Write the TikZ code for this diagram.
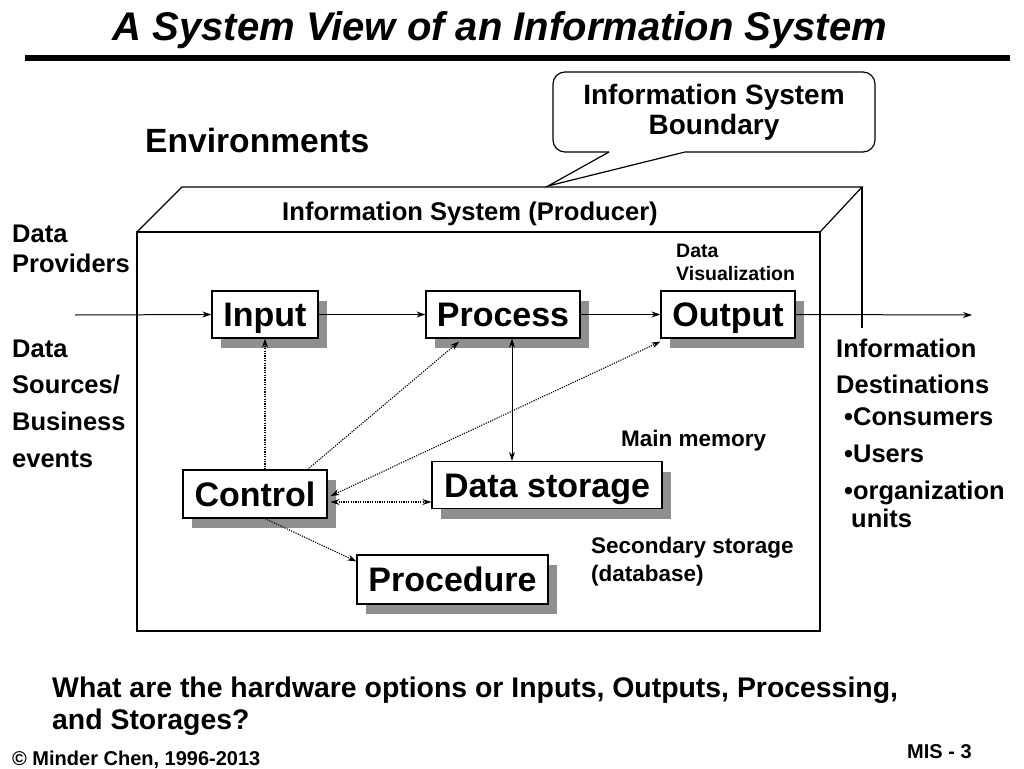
\documentclass[tikz,border=0pt]{standalone}
\usepackage{fontspec}
\setmainfont{Liberation Sans}
\usetikzlibrary{arrows.meta,shadows}
\definecolor{shadowgray}{gray}{0.56}
\newcommand{\fs}[1]{\fontsize{#1}{#1}\selectfont}
\tikzset{
  x=1pt,y=-1pt,
  procbox/.style={draw, fill=white, line width=1.2pt, inner sep=0pt, minimum height=47pt,
    font=\bfseries\fs{34}, text height=24.5pt, text depth=0pt,
    drop shadow={shadow xshift=9pt, shadow yshift=-10pt, fill=shadowgray, opacity=1}},
  lbl/.style={anchor=base west, inner sep=0pt, font=\bfseries\fs{25.5}},
  small/.style={anchor=base west, inner sep=0pt, font=\bfseries\fs{22.5}},
  tiny/.style={anchor=base west, inner sep=0pt, font=\bfseries\fs{19.5}},
  foot/.style={anchor=base west, inner sep=0pt, font=\bfseries\fs{20}},
  tip/.tip={Stealth[length=9pt,width=6pt,inset=3pt]},
  flow/.style={line width=1pt, -tip},
  flowboth/.style={line width=1pt, tip-tip},
  ctrl/.style={line width=1.1pt, dash pattern=on 1.2pt off 1.2pt, -{Stealth[length=9pt,width=6pt,inset=3pt,line width=0.9pt]}},
  ctrlboth/.style={line width=1.1pt, dash pattern=on 1.2pt off 1.2pt, {Stealth[length=9pt,width=6pt,inset=3pt,line width=0.9pt]}-{Stealth[length=9pt,width=6pt,inset=3pt,line width=0.9pt]}},
  edge3d/.style={line width=1.2pt},
}
\begin{document}
\begin{tikzpicture}
\useasboundingbox[fill=white] (0,0) rectangle (1024,768);

% title
\node[inner sep=0pt, anchor=base, font=\bfseries\itshape\fs{40}] (title) at (500,41) {A System View of an Information System};
\fill (25,55) rectangle (1010,61);

% callout
\node[draw, line width=1.2pt, rounded corners=12pt, minimum width=322pt, minimum height=80pt,
      align=center, font=\bfseries\fontsize{28}{30}\selectfont, inner sep=0pt] (callout) at (714,112)
      {Information System\\Boundary};
\fill[white] (609,150) rectangle (685,154.5);
\draw[line width=1.2pt] (609,152) -- (548,186) -- (685,152);

\node[lbl, font=\bfseries\fs{33.6}] (env) at (145,152) {Environments};

% 3D box
\draw[edge3d] (137,232) rectangle (820,631);
\draw[edge3d] (137,232) -- (182,187) -- (862,187) -- (820,232);
\draw[edge3d] (862,187) -- (862,328);

\node[inner sep=0pt, anchor=base, font=\bfseries\fs{25.6}] (prod) at (470,220) {Information System (Producer)};

% boxes
\node[procbox, minimum width=106pt] (input) at (265,314.5) {Input};
\node[procbox, minimum width=154pt] (process) at (503,314.5) {Process};
\node[procbox, minimum width=134pt] (output) at (728,314.5) {Output};
\node[procbox, minimum width=230pt] (storage) at (547,485) {Data storage};
\node[procbox, minimum width=144pt, minimum height=48pt] (control) at (255,494) {Control};
\node[procbox, minimum width=191pt, minimum height=49pt] (procedure) at (452.5,579.5) {Procedure};

% labels
\node[tiny] (vis1) at (676,257) {Data};
\node[tiny] (vis2) at (676,280) {Visualization};
\node[small] (mainmem) at (621,446) {Main memory};
\node[small] (sec1) at (591,553) {Secondary storage};
\node[small] (sec2) at (591,581) {(database)};

\node[lbl] (dp1) at (12,242) {Data};
\node[lbl] (dp2) at (12,272) {Providers};
\node[lbl] (ds1) at (12,357) {Data};
\node[lbl] (ds2) at (12,393) {Sources/};
\node[lbl] (ds3) at (12,430) {Business};
\node[lbl] (ds4) at (12,467) {events};

\node[lbl] (id1) at (836,357) {Information};
\node[lbl] (id2) at (836,393) {Destinations};
\node[lbl] (id3) at (844,425) {•Consumers};
\node[lbl] (id4) at (844,462) {•Users};
\node[lbl] (id5) at (844,499) {•organization};
\node[lbl] (id6) at (851,527) {units};

\node[anchor=base west, inner sep=0pt, font=\bfseries\fs{28.4}] (q1) at (52,697) {What are the hardware options or Inputs, Outputs, Processing,};
\node[anchor=base west, inner sep=0pt, font=\bfseries\fs{28.4}] (q2) at (52,729) {and Storages?};
\node[foot] (copy) at (12,765) {© Minder Chen, 1996-2013};
\node[foot] (mis) at (907,758) {MIS - 3};

% connectors
\coordinate (src) at (75,315);
\coordinate (dst) at (972,315);
\draw[flow] (src) -- (input.west);
\draw[flow] (input.east) -- (process.west);
\draw[flow] (process.east) -- (output.west);
\draw[flow] (output.east) -- (dst);
\draw[flowboth] ([xshift=9pt]process.south) -- ([xshift=9pt]process.south |- storage.north);

\draw[ctrl] (input.south |- control.north) -- (input.south);
\draw[ctrl] ([xshift=-20pt]control.north east) -- ([xshift=-44pt,yshift=-3pt]process.south);
\draw[ctrlboth] ([xshift=3pt,yshift=-2pt]control.east) -- ([yshift=-3pt]output.south west);
\draw[ctrlboth] ([xshift=3pt,yshift=-8pt]control.east) -- ([yshift=-8pt]control.east -| storage.west);
\draw[ctrl] ([xshift=10pt]control.south) -- ([yshift=-7pt]procedure.north west);
\end{tikzpicture}
\end{document}
